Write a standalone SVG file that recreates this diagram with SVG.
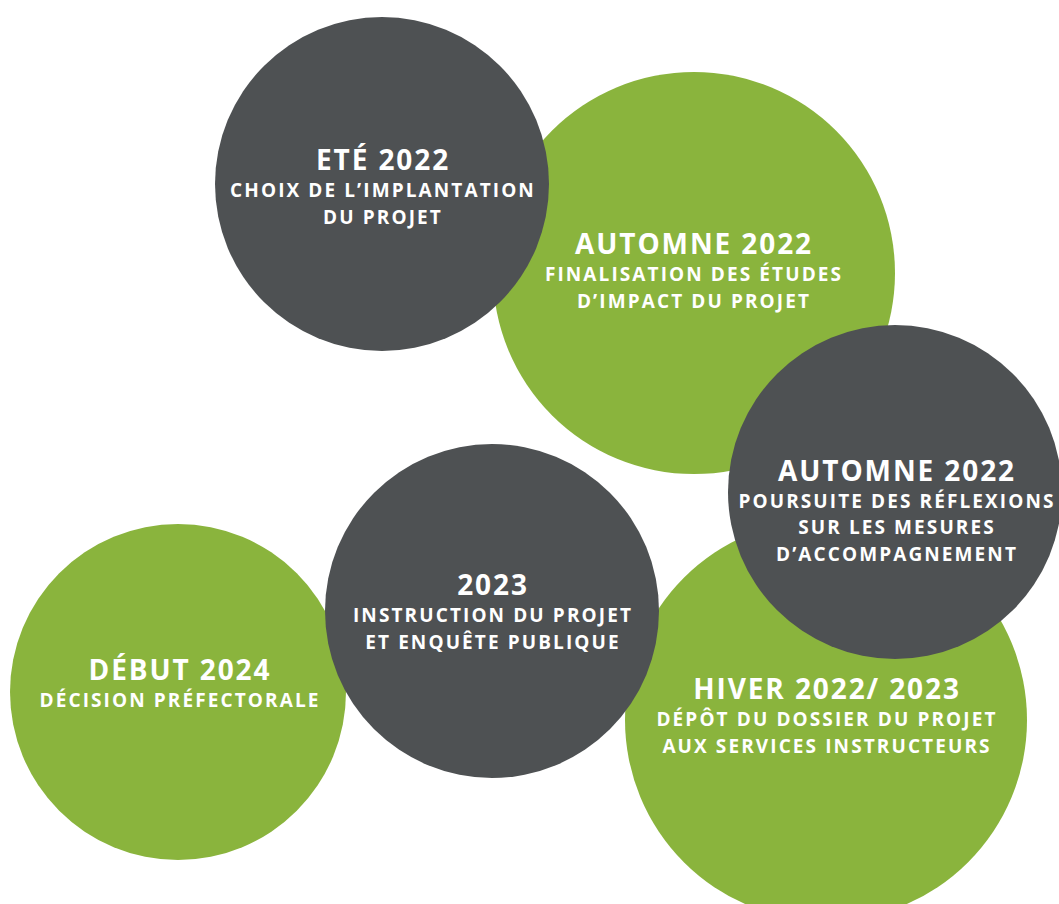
<svg xmlns="http://www.w3.org/2000/svg" width="1059" height="904" viewBox="0 0 1059 904">
<style>
.g{fill:#8ab43d}
.d{fill:#4e5153}
text{font-family:"Open Sans","Liberation Sans",sans-serif;font-weight:bold;fill:#fff;text-anchor:middle}
.t{font-size:28px;letter-spacing:1.9px}
.s{font-size:19px;letter-spacing:2.1px}
</style>
<rect width="1059" height="904" fill="#fff"/>
<g id="n2"><circle class="g" cx="694" cy="273" r="201"/>
<text class="t" x="694" y="254">AUTOMNE 2022</text>
<text class="s" x="694" y="281">FINALISATION DES ÉTUDES</text>
<text class="s" x="694" y="308">D’IMPACT DU PROJET</text></g>
<g id="n1"><circle class="d" cx="382" cy="184" r="167"/>
<text class="t" x="383" y="170">ETÉ 2022</text>
<text class="s" x="383" y="197">CHOIX DE L’IMPLANTATION</text>
<text class="s" x="383" y="224">DU PROJET</text></g>
<g id="n4"><circle class="g" cx="826" cy="720" r="201"/>
<text class="t" x="827" y="699">HIVER 2022/ 2023</text>
<text class="s" x="827" y="726">DÉPÔT DU DOSSIER DU PROJET</text>
<text class="s" x="827" y="753">AUX SERVICES INSTRUCTEURS</text></g>
<g id="n3"><circle class="d" cx="895" cy="492" r="167"/>
<text class="t" x="897" y="481">AUTOMNE 2022</text>
<text class="s" x="897" y="508">POURSUITE DES RÉFLEXIONS</text>
<text class="s" x="897" y="534">SUR LES MESURES</text>
<text class="s" x="897" y="561">D’ACCOMPAGNEMENT</text></g>
<g id="n6"><circle class="g" cx="178" cy="692" r="168"/>
<text class="t" x="180" y="680">DÉBUT 2024</text>
<text class="s" x="180" y="707">DÉCISION PRÉFECTORALE</text></g>
<g id="n5"><circle class="d" cx="492" cy="611" r="167"/>
<text class="t" x="493" y="595">2023</text>
<text class="s" x="493" y="622">INSTRUCTION DU PROJET</text>
<text class="s" x="493" y="649">ET ENQUÊTE PUBLIQUE</text></g>
<g id="connectors"/>
</svg>
